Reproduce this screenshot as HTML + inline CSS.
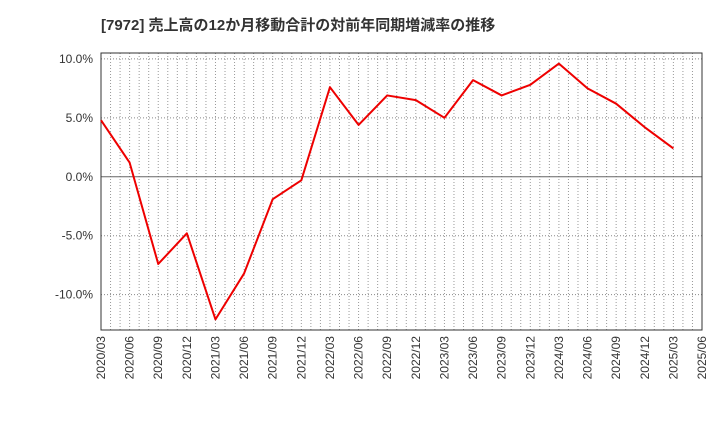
<!DOCTYPE html>
<html><head><meta charset="utf-8"><style>
body{margin:0;background:#fff;width:720px;height:440px;overflow:hidden}
text{font-family:"Liberation Sans","Noto Sans CJK JP",sans-serif}
</style></head><body>
<svg id="c" width="720" height="440" xmlns="http://www.w3.org/2000/svg">
<text x="101" y="30" font-size="15" font-weight="bold" fill="#333">[7972]  売上高の12か月移動合計の対前年同期増減率の推移</text>
<g id="grid"></g><g id="axes"></g><g id="series"></g>
</svg>
<script>
const categories=["2020/03","2020/06","2020/09","2020/12","2021/03","2021/06","2021/09","2021/12","2022/03","2022/06","2022/09","2022/12","2023/03","2023/06","2023/09","2023/12","2024/03","2024/06","2024/09","2024/12","2025/03","2025/06"];
const values=[4.8,1.2,-7.4,-4.8,-12.1,-8.2,-1.9,-0.3,7.6,4.4,6.9,6.5,5.0,8.2,6.9,7.8,9.6,7.5,6.2,4.2,2.4];
const yTicks=[10,5,0,-5,-10];
const yTickLabels=["10.0%","5.0%","0.0%","-5.0%","-10.0%"];
const L=101,R=702,T=53,B=330,yMax=10.5,yMin=-13;
const ns="http://www.w3.org/2000/svg";
const xq=i=>L+(R-L)*i/(categories.length-1);
const y=v=>T+(yMax-v)/(yMax-yMin)*(B-T);
function mk(p,t,a){const e=document.createElementNS(ns,t);for(const k in a)e.setAttribute(k,a[k]);p.appendChild(e);return e;}
const g=document.getElementById('grid'),ax=document.getElementById('axes'),s=document.getElementById('series');
const months=(categories.length-1)*3;
for(let m=1;m<months;m++){const x=L+(R-L)*m/months;
const l=mk(g,'line',{x1:x,x2:x,y1:T,y2:B,stroke:'#999','stroke-width':1,'stroke-dasharray':'1,2'});

}
yTicks.forEach((v,i)=>{const l=mk(g,'line',{x1:L,x2:R,y1:y(v),y2:y(v),stroke:v===0?'#666':'#888','stroke-width':1,'stroke-dasharray':v===0?'none':'1,2'});


const t=mk(ax,'text',{x:L-8,y:y(v)+4,'text-anchor':'end','font-size':12,fill:'#333'});t.textContent=yTickLabels[i];

});
categories.forEach((c,i)=>{const x=xq(i);const t=mk(ax,'text',{x:x+4,y:B+6,'text-anchor':'end','font-size':12,fill:'#333',transform:`rotate(-90 ${x+4} ${B+6})`});t.textContent=c;

});
const fr=mk(ax,'rect',{x:L,y:T,width:R-L,height:B-T,fill:'none',stroke:'#333','stroke-width':1});


const pl=mk(s,'polyline',{points:values.map((v,i)=>xq(i)+','+y(v)).join(' '),fill:'none',stroke:'#ee0000','stroke-width':2,'stroke-linejoin':'round'});


</script>
</body></html>
